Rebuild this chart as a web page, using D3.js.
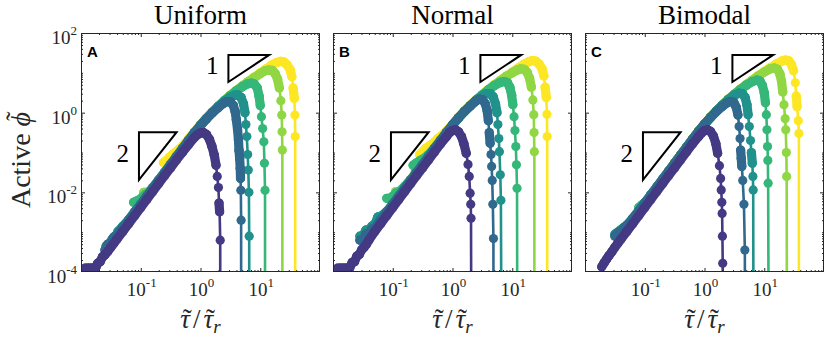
<!DOCTYPE html>
<html><head><meta charset="utf-8">
<script src="https://cdn.jsdelivr.net/npm/d3@7/dist/d3.min.js"></script>
<style>html,body{margin:0;padding:0;background:#fff;}svg{display:block}</style>
</head><body>
<svg id="chart" width="829" height="337"></svg>
<script>
// ================= DATA =================
const panelTitles = ["Uniform", "Normal", "Bimodal"];
const panelLetters = ["A", "B", "C"];
// drawing order: yellow first ... purple last (purple on top)
const seriesColors = ["#fde725", "#90d743", "#35b779", "#21918c", "#31688e", "#443983"];
const xTickExponents = [-1, 0, 1];
const yTickExponents = [-4, -2, 0, 2];
const xDomainExp = [-2, 2];
const yDomainExp = [-4, 2];
// slope triangles, [log10 x, log10 y]
const slopeOneTriangle = [[0.467, 1.45], [1.15, 1.45], [0.467, 0.77]];
const slopeTwoTriangle = [[-1.03, -0.49], [-0.4, -0.49], [-1.03, -1.69]];
const triangleLabels = ["1", "2"];

// series points as [log10(tau/tau_r), log10(active phi)]
// ---- A: Uniform ----
const uniformYellow = [[-0.62,-1.25],[-0.57,-1.2],[-0.52,-1.12],[-0.47,-1.06],[-0.42,-1.0],[-0.36,-0.92],[-0.3,-0.84],[-0.25,-0.75],[-0.2,-0.66],[-0.1,-0.48],[0.0,-0.3],[0.1,-0.13],[0.2,0.02],[0.3,0.17],[0.4,0.31],[0.5,0.44],[0.6,0.56],[0.7,0.67],[0.8,0.78],[0.9,0.89],[1.0,1.0],[1.1,1.1],[1.2,1.2],[1.28,1.26],[1.34,1.29],[1.4,1.27],[1.45,1.2],[1.5,1.08],[1.53,0.9],[1.55,0.62],[1.57,0.36],[1.58,-0.06],[1.585,-0.6],[1.585,-6]];
const uniformLime = [[-0.95,-2.0],[-0.9,-2.0],[-0.85,-1.96],[-0.8,-1.9],[-0.7,-1.7],[-0.6,-1.5],[-0.5,-1.3],[-0.4,-1.1],[-0.3,-0.9],[-0.2,-0.7],[-0.1,-0.5],[0.0,-0.32],[0.1,-0.15],[0.2,0.01],[0.3,0.16],[0.4,0.3],[0.5,0.43],[0.6,0.55],[0.7,0.67],[0.8,0.78],[0.9,0.88],[1.0,0.98],[1.08,1.05],[1.14,1.07],[1.2,1.06],[1.25,0.98],[1.29,0.84],[1.32,0.62],[1.345,0.3],[1.36,-0.06],[1.365,-0.48],[1.37,-0.94],[1.37,-6]];
const uniformGreen = [[-1.12,-2.25],[-1.07,-2.22],[-1.02,-2.18],[-0.97,-2.12],[-0.92,-2.05],[-0.85,-1.98],[-0.8,-1.88],[-0.7,-1.7],[-0.6,-1.5],[-0.5,-1.3],[-0.4,-1.1],[-0.3,-0.9],[-0.2,-0.7],[-0.1,-0.5],[0.0,-0.32],[0.1,-0.15],[0.2,0.01],[0.3,0.16],[0.4,0.3],[0.5,0.43],[0.6,0.55],[0.7,0.65],[0.78,0.72],[0.85,0.74],[0.9,0.72],[0.95,0.62],[0.98,0.42],[1.0,0.18],[1.02,-0.1],[1.04,-0.4],[1.06,-0.73],[1.07,-1.27],[1.08,-1.95],[1.08,-6]];
const uniformTeal = [[-1.58,-3.35],[-1.53,-3.32],[-1.48,-3.18],[-1.43,-3.14],[-1.38,-2.98],[-1.3,-2.85],[-1.2,-2.68],[-1.1,-2.48],[-1.0,-2.3],[-0.9,-2.1],[-0.8,-1.9],[-0.7,-1.7],[-0.6,-1.5],[-0.5,-1.3],[-0.4,-1.1],[-0.3,-0.9],[-0.2,-0.7],[-0.1,-0.5],[0.0,-0.32],[0.1,-0.15],[0.2,0.01],[0.3,0.16],[0.4,0.29],[0.5,0.39],[0.57,0.44],[0.63,0.44],[0.68,0.38],[0.72,0.22],[0.745,0.0],[0.76,-0.3],[0.775,-0.6],[0.79,-1.05],[0.8,-1.44],[0.81,-2.0],[0.815,-3.1],[0.817,-6]];
const uniformBlue = [[-1.6,-3.45],[-1.55,-3.3],[-1.5,-3.28],[-1.45,-3.12],[-1.4,-3.08],[-1.3,-2.88],[-1.2,-2.7],[-1.1,-2.5],[-1.0,-2.3],[-0.9,-2.1],[-0.8,-1.9],[-0.7,-1.7],[-0.6,-1.5],[-0.5,-1.3],[-0.4,-1.1],[-0.3,-0.9],[-0.2,-0.7],[-0.1,-0.5],[0.0,-0.32],[0.1,-0.15],[0.2,0.0],[0.3,0.13],[0.38,0.23],[0.45,0.28],[0.5,0.27],[0.55,0.18],[0.58,0.03],[0.6,-0.18],[0.62,-0.42],[0.635,-0.68],[0.645,-0.95],[0.655,-1.15],[0.665,-1.4],[0.67,-1.65],[0.675,-1.95],[0.68,-2.7],[0.68,-6]];
const uniformPurple = [[-1.93,-3.9],[-1.88,-3.9],[-1.83,-3.9],[-1.79,-3.9],[-1.75,-3.88],[-1.72,-3.78],[-1.68,-3.74],[-1.64,-3.62],[-1.6,-3.57],[-1.55,-3.48],[-1.5,-3.38],[-1.45,-3.28],[-1.4,-3.18],[-1.3,-2.98],[-1.2,-2.78],[-1.1,-2.58],[-1.0,-2.38],[-0.9,-2.18],[-0.8,-1.98],[-0.7,-1.78],[-0.6,-1.58],[-0.5,-1.38],[-0.4,-1.18],[-0.3,-0.99],[-0.2,-0.8],[-0.1,-0.62],[-0.05,-0.55],[0.0,-0.51],[0.05,-0.5],[0.1,-0.55],[0.15,-0.67],[0.19,-0.84],[0.23,-1.06],[0.26,-1.32],[0.28,-1.6],[0.3,-1.88],[0.31,-2.27],[0.32,-2.49],[0.33,-3.2],[0.33,-6]];

// ---- B: Normal ----
const normalYellow = [[-0.55,-1.05],[-0.5,-0.98],[-0.45,-0.9],[-0.4,-0.85],[-0.35,-0.8],[-0.3,-0.74],[-0.25,-0.66],[-0.2,-0.6],[-0.1,-0.46],[0.0,-0.29],[0.1,-0.12],[0.2,0.04],[0.3,0.19],[0.4,0.33],[0.5,0.46],[0.6,0.58],[0.7,0.7],[0.8,0.81],[0.9,0.92],[1.0,1.02],[1.1,1.12],[1.2,1.22],[1.28,1.28],[1.34,1.31],[1.4,1.29],[1.45,1.22],[1.5,1.1],[1.53,0.92],[1.55,0.64],[1.57,0.38],[1.58,-0.04],[1.585,-0.6],[1.585,-6]];
const normalLime = [[-0.95,-1.98],[-0.9,-1.98],[-0.85,-1.94],[-0.8,-1.88],[-0.7,-1.68],[-0.6,-1.48],[-0.5,-1.28],[-0.4,-1.08],[-0.3,-0.88],[-0.2,-0.69],[-0.1,-0.5],[0.0,-0.31],[0.1,-0.13],[0.2,0.03],[0.3,0.18],[0.4,0.32],[0.5,0.45],[0.6,0.57],[0.7,0.69],[0.8,0.8],[0.9,0.91],[1.0,1.0],[1.08,1.07],[1.14,1.1],[1.2,1.09],[1.25,1.01],[1.29,0.86],[1.32,0.64],[1.345,0.32],[1.36,-0.05],[1.365,-0.5],[1.37,-0.98],[1.37,-6]];
const normalGreen = [[-1.1,-2.15],[-1.05,-2.15],[-1.0,-2.1],[-0.95,-2.02],[-0.9,-2.0],[-0.8,-1.85],[-0.7,-1.68],[-0.66,-1.32],[-0.62,-1.28],[-0.58,-1.24],[-0.54,-1.2],[-0.5,-1.17],[-0.4,-1.05],[-0.3,-0.88],[-0.2,-0.7],[-0.1,-0.5],[0.0,-0.31],[0.1,-0.13],[0.2,0.03],[0.3,0.18],[0.4,0.32],[0.5,0.45],[0.6,0.57],[0.7,0.68],[0.8,0.76],[0.87,0.78],[0.92,0.75],[0.96,0.64],[0.99,0.44],[1.01,0.2],[1.03,-0.1],[1.045,-0.45],[1.06,-0.85],[1.07,-1.31],[1.08,-1.9],[1.085,-6]];
const normalTeal = [[-1.55,-3.1],[-1.5,-3.1],[-1.45,-2.95],[-1.4,-2.95],[-1.35,-2.85],[-1.3,-2.8],[-1.25,-2.62],[-1.2,-2.6],[-1.1,-2.48],[-1.0,-2.3],[-0.9,-2.1],[-0.8,-1.9],[-0.7,-1.7],[-0.6,-1.5],[-0.5,-1.3],[-0.4,-1.1],[-0.3,-0.9],[-0.2,-0.7],[-0.1,-0.5],[0.0,-0.31],[0.1,-0.13],[0.2,0.03],[0.3,0.18],[0.4,0.32],[0.5,0.42],[0.57,0.48],[0.63,0.48],[0.68,0.4],[0.72,0.22],[0.745,0.0],[0.76,-0.3],[0.775,-0.65],[0.785,-0.98],[0.8,-1.56],[0.81,-2.2],[0.82,-6]];
const normalBlue = [[-1.55,-3.2],[-1.5,-3.2],[-1.45,-3.05],[-1.4,-3.05],[-1.35,-2.92],[-1.3,-2.9],[-1.2,-2.68],[-1.1,-2.5],[-1.0,-2.3],[-0.9,-2.1],[-0.8,-1.9],[-0.7,-1.7],[-0.6,-1.5],[-0.5,-1.3],[-0.4,-1.1],[-0.3,-0.9],[-0.2,-0.7],[-0.1,-0.5],[0.0,-0.31],[0.1,-0.13],[0.2,0.03],[0.3,0.17],[0.38,0.28],[0.45,0.34],[0.5,0.33],[0.55,0.22],[0.58,0.05],[0.6,-0.2],[0.615,-0.5],[0.63,-0.77],[0.645,-1.05],[0.655,-1.35],[0.665,-1.7],[0.675,-2.3],[0.685,-3.16],[0.685,-6]];
const normalPurple = [[-1.92,-3.9],[-1.87,-3.9],[-1.82,-3.9],[-1.77,-3.9],[-1.72,-3.9],[-1.68,-3.76],[-1.64,-3.74],[-1.6,-3.6],[-1.56,-3.56],[-1.52,-3.44],[-1.48,-3.38],[-1.44,-3.3],[-1.4,-3.2],[-1.3,-2.98],[-1.2,-2.78],[-1.1,-2.58],[-1.0,-2.38],[-0.9,-2.18],[-0.8,-1.98],[-0.7,-1.78],[-0.6,-1.58],[-0.5,-1.38],[-0.4,-1.18],[-0.3,-0.98],[-0.2,-0.78],[-0.1,-0.6],[-0.05,-0.5],[0.0,-0.45],[0.05,-0.43],[0.1,-0.48],[0.15,-0.6],[0.19,-0.78],[0.23,-1.02],[0.26,-1.3],[0.28,-1.6],[0.295,-2.02],[0.305,-2.3],[0.31,-2.65],[0.315,-6]];

// ---- C: Bimodal ----
const bimodalYellow = [[-0.5,-1.25],[-0.45,-1.15],[-0.4,-1.06],[-0.35,-0.96],[-0.3,-0.86],[-0.2,-0.66],[-0.1,-0.46],[0.0,-0.28],[0.1,-0.11],[0.2,0.05],[0.3,0.2],[0.4,0.34],[0.5,0.47],[0.6,0.59],[0.7,0.71],[0.8,0.82],[0.9,0.93],[1.0,1.03],[1.1,1.13],[1.2,1.22],[1.3,1.3],[1.36,1.32],[1.41,1.3],[1.45,1.22],[1.49,1.05],[1.52,0.75],[1.535,0.42],[1.55,0.15],[1.57,-0.2],[1.58,-0.52],[1.58,-6]];
const bimodalLime = [[-0.9,-2.08],[-0.85,-1.98],[-0.8,-1.88],[-0.7,-1.67],[-0.6,-1.47],[-0.5,-1.27],[-0.4,-1.07],[-0.3,-0.87],[-0.2,-0.67],[-0.1,-0.47],[0.0,-0.29],[0.1,-0.12],[0.2,0.04],[0.3,0.19],[0.4,0.33],[0.5,0.46],[0.6,0.58],[0.7,0.7],[0.8,0.81],[0.9,0.92],[1.0,1.02],[1.1,1.1],[1.17,1.12],[1.22,1.09],[1.26,0.98],[1.29,0.78],[1.31,0.52],[1.33,0.2],[1.35,-0.15],[1.36,-0.43],[1.37,-1.0],[1.375,-1.6],[1.38,-6]];
const bimodalGreen = [[-1.1,-2.38],[-1.05,-2.32],[-1.0,-2.26],[-0.95,-2.2],[-0.9,-2.08],[-0.8,-1.87],[-0.7,-1.67],[-0.6,-1.47],[-0.5,-1.27],[-0.4,-1.07],[-0.3,-0.87],[-0.2,-0.67],[-0.1,-0.47],[0.0,-0.29],[0.1,-0.12],[0.2,0.04],[0.3,0.19],[0.4,0.33],[0.5,0.46],[0.6,0.58],[0.7,0.69],[0.8,0.78],[0.88,0.82],[0.93,0.79],[0.97,0.68],[1.0,0.5],[1.02,0.25],[1.035,-0.05],[1.045,-0.43],[1.055,-0.85],[1.06,-1.2],[1.065,-1.77],[1.075,-6]];
const bimodalTeal = [[-1.5,-3.05],[-1.45,-3.0],[-1.4,-2.94],[-1.35,-2.88],[-1.3,-2.82],[-1.2,-2.65],[-1.1,-2.46],[-1.0,-2.27],[-0.9,-2.07],[-0.8,-1.87],[-0.7,-1.67],[-0.6,-1.47],[-0.5,-1.27],[-0.4,-1.07],[-0.3,-0.87],[-0.2,-0.67],[-0.1,-0.47],[0.0,-0.29],[0.1,-0.12],[0.2,0.04],[0.3,0.19],[0.4,0.33],[0.5,0.44],[0.58,0.49],[0.64,0.47],[0.68,0.38],[0.71,0.2],[0.73,-0.05],[0.75,-0.35],[0.77,-0.7],[0.785,-1.0],[0.8,-1.27],[0.81,-1.6],[0.815,-1.94],[0.82,-6]];
const bimodalBlue = [[-1.5,-3.1],[-1.45,-3.02],[-1.4,-2.98],[-1.35,-2.9],[-1.3,-2.84],[-1.2,-2.66],[-1.1,-2.47],[-1.0,-2.27],[-0.9,-2.07],[-0.8,-1.87],[-0.7,-1.67],[-0.6,-1.47],[-0.5,-1.27],[-0.4,-1.07],[-0.3,-0.87],[-0.2,-0.67],[-0.1,-0.47],[0.0,-0.29],[0.1,-0.12],[0.2,0.03],[0.3,0.16],[0.37,0.24],[0.43,0.28],[0.49,0.26],[0.53,0.14],[0.56,-0.06],[0.58,-0.35],[0.595,-0.65],[0.605,-0.94],[0.615,-1.15],[0.625,-1.35],[0.64,-1.7],[0.66,-2.3],[0.675,-3.45],[0.68,-6]];
const bimodalPurple = [[-1.72,-3.87],[-1.68,-3.77],[-1.64,-3.68],[-1.6,-3.59],[-1.55,-3.49],[-1.5,-3.38],[-1.45,-3.28],[-1.4,-3.18],[-1.3,-2.98],[-1.2,-2.78],[-1.1,-2.58],[-1.0,-2.38],[-0.9,-2.18],[-0.8,-1.98],[-0.7,-1.78],[-0.6,-1.58],[-0.5,-1.38],[-0.4,-1.18],[-0.3,-0.98],[-0.2,-0.78],[-0.1,-0.6],[-0.05,-0.51],[0.0,-0.45],[0.05,-0.43],[0.1,-0.47],[0.15,-0.59],[0.19,-0.78],[0.22,-1.02],[0.25,-1.33],[0.27,-1.65],[0.28,-1.94],[0.29,-2.25],[0.295,-2.53],[0.3,-3.1],[0.305,-3.78],[0.305,-6]];

const panelSeries = [
  [uniformYellow, uniformLime, uniformGreen, uniformTeal, uniformBlue, uniformPurple],
  [normalYellow, normalLime, normalGreen, normalTeal, normalBlue, normalPurple],
  [bimodalYellow, bimodalLime, bimodalGreen, bimodalTeal, bimodalBlue, bimodalPurple]
];

// ================= LAYOUT / STYLE =================
const SERIF = "'Liberation Serif','Times New Roman',serif";
const SANS = "'Liberation Sans',Arial,sans-serif";
const AX = "#262626";
const panelLeft = [81, 333, 585], panelW = 239, panelTop = 33, panelBottom = 272;
const markerR = 4.6;
const pow = v => Math.pow(10, v);

const svg = d3.select("#chart");
const defs = svg.append("defs");

function supLabel(sel, exp, supSize, raise) {
  sel.append("tspan").text("10");
  sel.append("tspan").attr("dy", -raise).style("font-size", supSize + "px")
     .text(exp < 0 ? "-" + (-exp) : String(exp));
}

panelSeries.forEach((series, i) => {
  const x0 = panelLeft[i], x1 = x0 + panelW, cx = (x0 + x1) / 2;
  const xs = d3.scaleLog().domain(xDomainExp.map(pow)).range([x0, x1]);
  const ys = d3.scaleLog().domain(yDomainExp.map(pow)).range([panelBottom, panelTop]);

  defs.append("clipPath").attr("id", "clip" + i).append("rect")
    .attr("x", x0).attr("y", panelTop).attr("width", panelW).attr("height", panelBottom - panelTop);
  const plot = svg.append("g").attr("clip-path", `url(#clip${i})`);

  series.forEach((pts, k) => {
    const col = seriesColors[k];
    const P = pts.map(d => [xs(pow(d[0])), ys(pow(d[1]))]);
    const g = plot.append("g");
    // closely spaced markers merge into a continuous band
    const dense = d3.pairs(P).filter(([a, b]) => Math.hypot(b[0] - a[0], b[1] - a[1]) < 11);
    g.selectAll("line").data(dense).join("line")
      .attr("x1", d => d[0][0]).attr("y1", d => d[0][1])
      .attr("x2", d => d[1][0]).attr("y2", d => d[1][1])
      .attr("stroke", col).attr("stroke-width", markerR * 2).attr("stroke-linecap", "round");
    g.append("path").attr("d", d3.line()(P)).attr("fill", "none")
      .attr("stroke", col).attr("stroke-width", 2.6).attr("stroke-linejoin", "round");
    g.selectAll("circle").data(P).join("circle")
      .attr("cx", d => d[0]).attr("cy", d => d[1]).attr("r", markerR).attr("fill", col);
  });

  // slope triangles
  [slopeOneTriangle, slopeTwoTriangle].forEach((tri, t) => {
    const P = tri.map(d => [xs(pow(d[0])), ys(pow(d[1]))]);
    svg.append("path").attr("d", d3.line()(P) + "Z").attr("fill", "none")
      .attr("stroke", "#000").attr("stroke-width", 2).attr("stroke-linejoin", "miter");
    const midY = (P[0][1] + P[2][1]) / 2;
    svg.append("text").attr("x", P[0][0] - 10).attr("y", midY + 5.5)
      .attr("text-anchor", "end").style("font-family", SERIF).style("font-size", "25px")
      .text(triangleLabels[t]);
  });

  // ticks (inward on all sides)
  const xMinor = [], yMinor = [];
  for (let e = xDomainExp[0]; e < xDomainExp[1]; e++) for (let m = 2; m <= 9; m++) xMinor.push(m * pow(e));
  for (let e = yDomainExp[0]; e < yDomainExp[1]; e++) {
    if (e > yDomainExp[0] && !yTickExponents.includes(e)) yMinor.push(pow(e));
    for (let m = 2; m <= 9; m++) yMinor.push(m * pow(e));
  }
  const xMajor = xTickExponents.map(pow), yMajor = yTickExponents.filter(e => e > yDomainExp[0] && e < yDomainExp[1]).map(pow);
  const axes = [
    [d3.axisBottom(xs), `translate(0,${panelBottom})`, xMajor, xMinor],
    [d3.axisTop(xs), `translate(0,${panelTop})`, xMajor, xMinor],
    [d3.axisLeft(ys), `translate(${x0},0)`, yMajor, yMinor],
    [d3.axisRight(ys), `translate(${x1},0)`, yMajor, yMinor]
  ];
  axes.forEach(([ax, tr, maj, min]) => {
    [[maj, 4], [min, 2]].forEach(([vals, len]) => {
      const g = svg.append("g").attr("transform", tr)
        .call(ax.tickValues(vals).tickSize(-len).tickSizeOuter(0).tickFormat(() => ""));
      g.select(".domain").remove();
      g.selectAll("text").remove();
      g.selectAll("line").attr("stroke", AX).attr("stroke-width", 1);
    });
  });

  // frame
  svg.append("rect").attr("x", x0 + 0.5).attr("y", panelTop + 0.5)
    .attr("width", panelW - 1).attr("height", panelBottom - panelTop - 1)
    .attr("fill", "none").attr("stroke", AX).attr("stroke-width", 1);

  // x tick labels
  xTickExponents.forEach(e => {
    const t = svg.append("text").attr("x", xs(pow(e)) + 1).attr("y", panelBottom + 24)
      .attr("text-anchor", "middle").style("font-family", SERIF).style("font-size", "19px").attr("fill", AX);
    supLabel(t, e, 13, 9);
  });
  // y tick labels (first panel only)
  if (i === 0) {
    yTickExponents.forEach(e => {
      const t = svg.append("text").attr("x", x0 - 4).attr("y", ys(pow(e)) + 11)
        .attr("text-anchor", "end").style("font-family", SERIF).style("font-size", "19px").attr("fill", AX);
      supLabel(t, e, 13, 9);
    });
  }

  // title
  svg.append("text").attr("x", cx).attr("y", 24).attr("text-anchor", "middle")
    .style("font-family", SERIF).style("font-size", "27px").attr("fill", "#000").text(panelTitles[i]);

  // panel letter
  svg.append("text").attr("x", x0 + 6).attr("y", 57)
    .style("font-family", SANS).style("font-weight", "bold").style("font-size", "15px")
    .attr("fill", "#000").text(panelLetters[i]);

  // x axis label  ~tau / ~tau_r  (tilde accents placed inside the same text element)
  const xl = svg.append("text").attr("x", cx).attr("y", 328).attr("text-anchor", "middle")
    .style("font-family", SERIF).style("font-size", "27px").attr("fill", AX);
  xl.append("tspan").style("font-style", "italic").text("τ");
  xl.append("tspan").attr("dx", 3).text("/");
  xl.append("tspan").attr("dx", 3).style("font-style", "italic").text("τ");
  xl.append("tspan").attr("dy", 5).style("font-style", "italic").style("font-size", "19px").text("r");
  const e0 = xl.node().getExtentOfChar(0), e2 = xl.node().getExtentOfChar(2);
  [e0, e2].forEach(ext => {
    xl.append("tspan").attr("x", ext.x + ext.width / 2 + 2).attr("y", 328)
      .style("font-style", "normal").text("˜");
  });
});

// y axis label  Active ~phi
const yl = svg.append("g").attr("transform", "translate(30,160) rotate(-90)");
const ylt = yl.append("text").attr("x", 0).attr("y", 0).attr("text-anchor", "middle")
  .style("font-family", SERIF).style("font-size", "28px").attr("fill", AX);
ylt.append("tspan").text("Active ");
ylt.append("tspan").style("font-style", "italic").text("ϕ");
{
  const ext = ylt.node().getExtentOfChar(7);
  ylt.append("tspan").attr("x", ext.x + ext.width / 2 + 3).attr("y", -5)
    .style("font-style", "normal").text("˜");
}
</script>
</body></html>
